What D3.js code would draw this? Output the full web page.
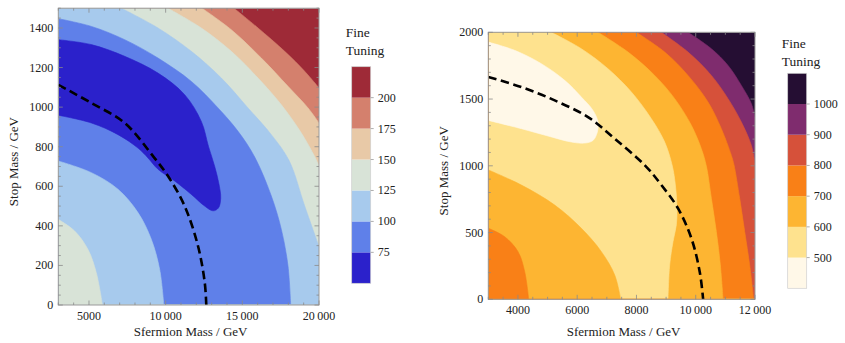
<!DOCTYPE html>
<html><head><meta charset="utf-8">
<script src="https://cdn.jsdelivr.net/npm/d3@7"></script>
<style>
body{margin:0;background:#fff;}
text{font-family:"Liberation Serif","Times New Roman",serif;fill:#222;}
</style></head>
<body><svg id="c" width="845" height="343"></svg>
<script>
// ---------------- LEFT PANEL DATA (Sfermion mass, Stop mass) ----------------
const leftLevels = [75, 100, 125, 150, 175, 200];
const leftColors = ["#2b21cb", "#5f80e9", "#a7caed", "#d8e3d7", "#e8c9a7", "#d4806d", "#9e2a37"];
const leftXTicks = [5000, 10000, 15000, 20000];
const leftYTicks = [0, 200, 400, 600, 800, 1000, 1200, 1400];
// contour boundaries
const L200 = [[14459,1500],[16024,1400],[17763,1282],[19068,1181],[20000,1097]];
const L175 = [[12372,1500],[14285,1391],[16241,1248],[17981,1105],[19285,996],[20000,920]];
const L150 = [[10154,1500],[12328,1400],[14285,1282],[16024,1147],[17546,1012],[18850,869],[19720,750],[20000,702]];
const L125out = [[7110,1500],[9501,1400],[11675,1282],[13631,1147],[15371,996],[16892,861],[18050,730],[19068,500],[20000,295]];
const L100out = [[3000,1447],[5154,1408],[7328,1341],[9501,1248],[11675,1130],[13415,996],[14720,878],[15807,748],[16892,551],[17544,382],[17979,197],[18152,0]];
const L75island = [[3000,1341],[5154,1316],[7328,1257],[9501,1172],[11240,1063],[12327,928],[12800,800],[13200,700],[13480,610],[13590,540],[13440,490],[13088,476],[12545,500],[11675,559],[10588,627],[9501,686],[8849,743],[8197,793],[6893,861],[5154,920],[3000,959]];
const L100in = [[3000,728],[5154,669],[6893,585],[8197,467],[9066,332],[9610,180],[9880,0]];
const L125in = [[3000,433],[4067,374],[4936,281],[5480,163],[5880,0]];
const leftDash = [[3000,1113],[5150,1021],[7330,920],[9200,750],[10150,652],[11240,500],[12110,298],[12550,113],[12650,0]];

// ---------------- RIGHT PANEL DATA ----------------
const rightLevels = [500, 600, 700, 800, 900, 1000];
const rightColors = ["#fff8e8", "#fee28e", "#fdb532", "#f98017", "#d6513a", "#7f2c6e", "#250e33"];
const rightXTicks = [4000, 6000, 8000, 10000, 12000];
const rightYTicks = [0, 500, 1000, 1500, 2000];
const R1000 = [[9740,2000],[10528,1877],[11090,1752],[11540,1602],[11878,1465],[12000,1363]];
const R900 = [[8840,2000],[9740,1852],[10528,1677],[11090,1503],[11540,1328],[11878,1153],[12000,1018]];
const R800 = [[7996,2000],[8953,1852],[9740,1677],[10415,1478],[10865,1278],[11203,1078],[11293,1006],[11484,756],[11653,507],[11821,257],[11956,0]];
const R700out = [[6703,2000],[7715,1852],[8615,1677],[9290,1503],[9853,1303],[10190,1128],[10359,998],[10528,756],[10696,507],[10831,257],[10921,0]];
const R600out = [[5128,2000],[6140,1877],[7040,1727],[7828,1553],[8503,1353],[8953,1178],[9211,998],[9313,856],[9369,681],[9346,557],[9234,432],[9121,257],[9065,0]];
const R500island = [[3000,1927],[3890,1865],[4790,1765],[5578,1640],[6140,1515],[6534,1415],[6703,1328],[6680,1253],[6534,1190],[6253,1170],[5803,1178],[5015,1223],[4115,1278],[3000,1340]];
const R600in = [[3000,969],[4115,856],[5240,706],[6140,532],[6815,357],[7265,182],[7468,0]];
const R700in = [[3000,532],[3552,469],[4003,357],[4228,207],[4363,0]];
const rightDash = [[3000,1665],[4115,1590],[5240,1490],[6365,1365],[7265,1203],[8300,1000],[8840,856],[9403,681],[9853,457],[10134,207],[10250,0]];

const svg = d3.select("#c");
let clipId = 0;

function drawPanel(cfg) {
  const x = d3.scaleLinear().domain(cfg.xDomain).range([cfg.left, cfg.right]);
  const y = d3.scaleLinear().domain(cfg.yDomain).range([cfg.bottom, cfg.top]);
  const id = "clip" + (clipId++);
  svg.append("clipPath").attr("id", id).append("rect")
    .attr("x", cfg.left).attr("y", cfg.top)
    .attr("width", cfg.right - cfg.left).attr("height", cfg.bottom - cfg.top);
  const g = svg.append("g").attr("clip-path", `url(#${id})`);
  const line = d3.line().x(d => x(d[0])).y(d => y(d[1])).curve(d3.curveCatmullRom.alpha(0.5));
  const [x0, x1] = cfg.xDomain, [y0, y1] = cfg.yDomain;
  g.append("rect").attr("x", cfg.left).attr("y", cfg.top)
    .attr("width", cfg.right - cfg.left).attr("height", cfg.bottom - cfg.top)
    .attr("fill", cfg.bg);
  cfg.layers.forEach(L => {
    let d = line(L.pts);
    if (L.closed) d += "Z";
    else d += `L${x(x1)},${y(y0)}L${x(x0)},${y(y0)}L${x(x0)},${y(y1)}Z`;
    g.append("path").attr("d", d).attr("fill", L.color).attr("stroke", L.color).attr("stroke-width", 0.6);
  });
  g.append("path").attr("d", line(cfg.dash)).attr("fill", "none")
    .attr("stroke", "#000").attr("stroke-width", 2.6).attr("stroke-dasharray", "8.5,4.5");

  svg.append("rect").attr("x", cfg.left).attr("y", cfg.top)
    .attr("width", cfg.right - cfg.left).attr("height", cfg.bottom - cfg.top)
    .attr("fill", "none").attr("stroke", "#9a9a9a").attr("stroke-width", 1);
  const tk = svg.append("g").attr("stroke", "#8a8a8a").attr("stroke-width", 0.8);
  const xMinor = d3.range(x0, x1 + 1e-6, cfg.xMinor), yMinor = d3.range(y0, y1 + 1e-6, cfg.yMinor);
  xMinor.forEach(v => {
    const major = cfg.xTicks.includes(v), len = major ? 4.5 : 2.5;
    tk.append("line").attr("x1", x(v)).attr("x2", x(v)).attr("y1", cfg.bottom).attr("y2", cfg.bottom - len);
    tk.append("line").attr("x1", x(v)).attr("x2", x(v)).attr("y1", cfg.top).attr("y2", cfg.top + len);
  });
  yMinor.forEach(v => {
    const major = cfg.yTicks.includes(v), len = major ? 4.5 : 2.5;
    tk.append("line").attr("y1", y(v)).attr("y2", y(v)).attr("x1", cfg.left).attr("x2", cfg.left + len);
    tk.append("line").attr("y1", y(v)).attr("y2", y(v)).attr("x1", cfg.right).attr("x2", cfg.right - len);
  });
  const fmt = v => v >= 10000 ? String(v).replace(/(\d{2})(\d{3})$/, "$1\u2009$2") : String(v);
  cfg.xTicks.forEach(v => svg.append("text").attr("x", x(v)).attr("y", cfg.bottom + 15)
    .attr("text-anchor", "middle").attr("font-size", 12).text(fmt(v)));
  cfg.yTicks.forEach(v => svg.append("text").attr("x", cfg.left - 5).attr("y", y(v) + 4)
    .attr("text-anchor", "end").attr("font-size", 12).text(v));
  svg.append("text").attr("x", (cfg.left + cfg.right) / 2 + 2).attr("y", 336)
    .attr("text-anchor", "middle").attr("font-size", 13).text("Sfermion Mass / GeV");
  svg.append("text").attr("transform", `translate(${cfg.left - 40},${(cfg.top + cfg.bottom) / 2 + 5}) rotate(-90)`)
    .attr("text-anchor", "middle").attr("font-size", 13).text("Stop Mass / GeV");

  const lg = cfg.legend;
  svg.append("text").attr("x", lg.x - 6).attr("y", lg.titleY).attr("font-size", 13.5).text("Fine");
  svg.append("text").attr("x", lg.x - 6).attr("y", lg.titleY + 18).attr("font-size", 13.5).text("Tuning");
  const n = cfg.colors.length;
  const ly = d3.scaleLinear().domain([0, n]).range([lg.y1, lg.y0]);
  cfg.colors.forEach((c, i) => {
    svg.append("rect").attr("x", lg.x).attr("y", ly(i + 1)).attr("width", 19)
      .attr("height", ly(i) - ly(i + 1)).attr("fill", c);
  });
  svg.append("rect").attr("x", lg.x).attr("y", lg.y0).attr("width", 19).attr("height", lg.y1 - lg.y0)
    .attr("fill", "none").attr("stroke", "#cfcfcf").attr("stroke-width", 0.7);
  cfg.levels.forEach((v, i) => {
    svg.append("line").attr("x1", lg.x + 19).attr("x2", lg.x + 22).attr("y1", ly(i + 1)).attr("y2", ly(i + 1))
      .attr("stroke", "#999").attr("stroke-width", 0.8);
    svg.append("text").attr("x", lg.x + 26).attr("y", ly(i + 1) + 4).attr("font-size", 12).text(v);
  });
}

drawPanel({
  xDomain: [3000, 20000], yDomain: [0, 1500],
  left: 58.3, right: 319, top: 8.2, bottom: 305,
  xTicks: leftXTicks, yTicks: leftYTicks, xMinor: 1000, yMinor: 50,
  bg: leftColors[6],
  layers: [
    {pts: L200, color: leftColors[5]},
    {pts: L175, color: leftColors[4]},
    {pts: L150, color: leftColors[3]},
    {pts: L125out, color: leftColors[2]},
    {pts: L100out, color: leftColors[1]},
    {pts: L75island, color: leftColors[0], closed: true},
    {pts: L100in, color: leftColors[2]},
    {pts: L125in, color: leftColors[3]}
  ],
  dash: leftDash,
  colors: leftColors, levels: leftLevels,
  legend: {x: 351.7, y0: 66.7, y1: 283.3, titleY: 37}
});

drawPanel({
  xDomain: [3000, 12000], yDomain: [0, 2000],
  left: 488.3, right: 755, top: 32.3, bottom: 299.3,
  xTicks: rightXTicks, yTicks: rightYTicks, xMinor: 500, yMinor: 100,
  bg: rightColors[6],
  layers: [
    {pts: R1000, color: rightColors[5]},
    {pts: R900, color: rightColors[4]},
    {pts: R800, color: rightColors[3]},
    {pts: R700out, color: rightColors[2]},
    {pts: R600out, color: rightColors[1]},
    {pts: R500island, color: rightColors[0], closed: true},
    {pts: R600in, color: rightColors[2]},
    {pts: R700in, color: rightColors[3]}
  ],
  dash: rightDash,
  colors: rightColors, levels: rightLevels,
  legend: {x: 787.7, y0: 73.3, y1: 288.3, titleY: 48}
});
</script></body></html>
